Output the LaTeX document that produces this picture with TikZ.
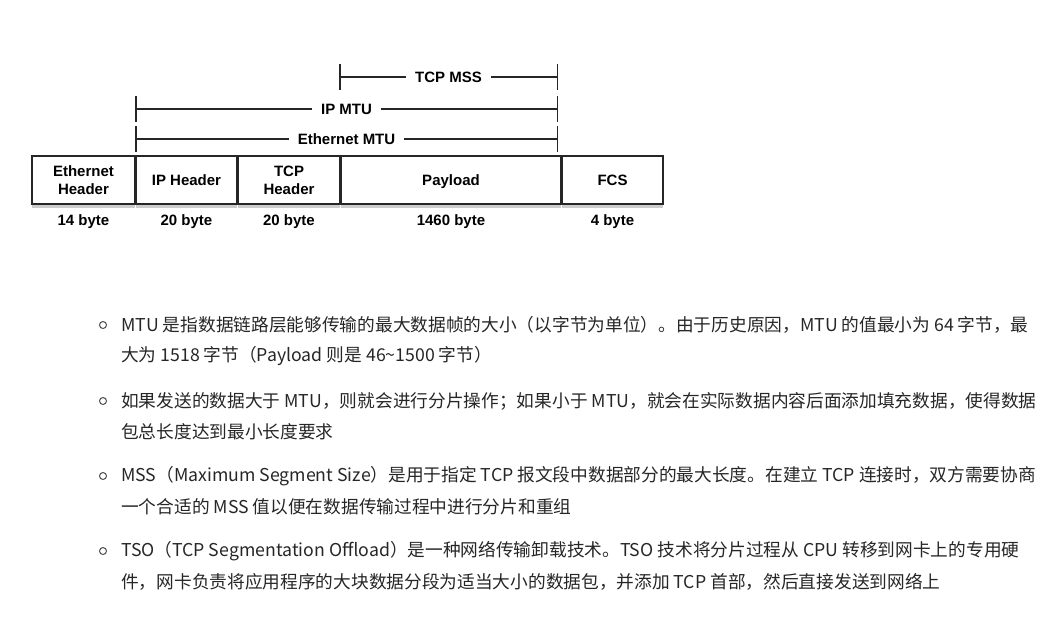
\documentclass[tikz,border=0pt]{standalone}
\usepackage{fontspec}
\setmainfont{Liberation Sans}
\newfontfamily\cjk{Noto Sans CJK SC}
\usetikzlibrary{positioning,shadows,arrows.meta}

\tikzset{
  field/.style={draw=black!85, line width=1.6pt, fill=white, minimum height=48pt,
    inner sep=0pt, outer sep=0pt, align=center, text depth=0pt,
    font=\bfseries\fontsize{15}{18}\selectfont,
    drop shadow={opacity=0.4, shadow xshift=0pt, shadow yshift=-4pt}},
  bytelabel/.style={font=\bfseries\fontsize{15}{16}\selectfont},
  dimline/.style={line width=1.5pt, draw=black!85, {Bar[width=26pt]}-{Bar[width=26pt]}},
  dimlabel/.style={fill=white, inner xsep=9pt, font=\bfseries\fontsize{15}{16}\selectfont},
  bullettext/.style={anchor=west, inner sep=0pt, text=black!85, font=\cjk\fontsize{17.7}{20}\selectfont},
  itemdot/.style={circle, draw=black!70, line width=1pt, minimum size=7pt, inner sep=0pt}
}

\begin{document}
\begin{tikzpicture}[x=1pt, y=-1pt]
  \useasboundingbox (0,0) rectangle (1056,621);

  % frame fields
  \node[field, minimum width=103pt] (eth) at (83.5,180) {Ethernet\\Header};
  \node[field, minimum width=101pt, right=1pt of eth] (iphdr) {IP Header};
  \node[field, minimum width=102pt, right=1pt of iphdr] (tcphdr) {TCP\\Header};
  \node[field, minimum width=220pt, right=1pt of tcphdr] (payload) {Payload};
  \node[field, minimum width=101pt, right=1pt of payload] (fcs) {FCS};

  % sizes
  \coordinate (sizerow) at (0,222);
  \node[bytelabel] (ethsize) at (eth |- sizerow) {14 byte};
  \node[bytelabel] (ipsize) at (iphdr |- sizerow) {20 byte};
  \node[bytelabel] (tcpsize) at (tcphdr |- sizerow) {20 byte};
  \node[bytelabel] (paysize) at (payload |- sizerow) {1460 byte};
  \node[bytelabel] (fcssize) at (fcs |- sizerow) {4 byte};

  % spans
  \coordinate (mssL) at (339,77);
  \coordinate (mssR) at (558,77);
  \coordinate (ipL) at (135,109);
  \coordinate (ipR) at (558,109);
  \coordinate (ethL) at (135,139);
  \coordinate (ethR) at (558,139);
  \draw[dimline] (mssL) -- node[dimlabel] (msslabel) {TCP MSS} (mssR);
  \draw[dimline] (ipL) -- node[dimlabel] (iplabel) {IP MTU} (ipR);
  \draw[dimline] (ethL) -- node[dimlabel] (ethlabel) {Ethernet MTU} (ethR);

  % notes
  \node[itemdot] (dotA) at (103,325) {};
  \node[bullettext] (mtuA) at (121,325) {MTU 是指数据链路层能够传输的最大数据帧的大小（以字节为单位）。由于历史原因，MTU 的值最小为 64 字节，最};
  \node[bullettext] (mtuB) at (121,356) {大为 1518 字节（Payload 则是 46\textasciitilde1500 字节）};

  \node[itemdot] (dotB) at (103,401) {};
  \node[bullettext] (fragA) at (121,401) {如果发送的数据大于 MTU，则就会进行分片操作；如果小于 MTU，就会在实际数据内容后面添加填充数据，使得数据};
  \node[bullettext] (fragB) at (121,432) {包总长度达到最小长度要求};

  \node[itemdot] (dotC) at (103,476) {};
  \node[bullettext] (mssA) at (121,476) {MSS（Maximum Segment Size）是用于指定 TCP 报文段中数据部分的最大长度。在建立 TCP 连接时，双方需要协商};
  \node[bullettext] (mssB) at (121,507) {一个合适的 MSS 值以便在数据传输过程中进行分片和重组};

  \node[itemdot] (dotD) at (103,551) {};
  \node[bullettext] (tsoA) at (121,551) {TSO（TCP Segmentation Offload）是一种网络传输卸载技术。TSO 技术将分片过程从 CPU 转移到网卡上的专用硬};
  \node[bullettext] (tsoB) at (121,582) {件，网卡负责将应用程序的大块数据分段为适当大小的数据包，并添加 TCP 首部，然后直接发送到网络上};
\end{tikzpicture}
\end{document}
